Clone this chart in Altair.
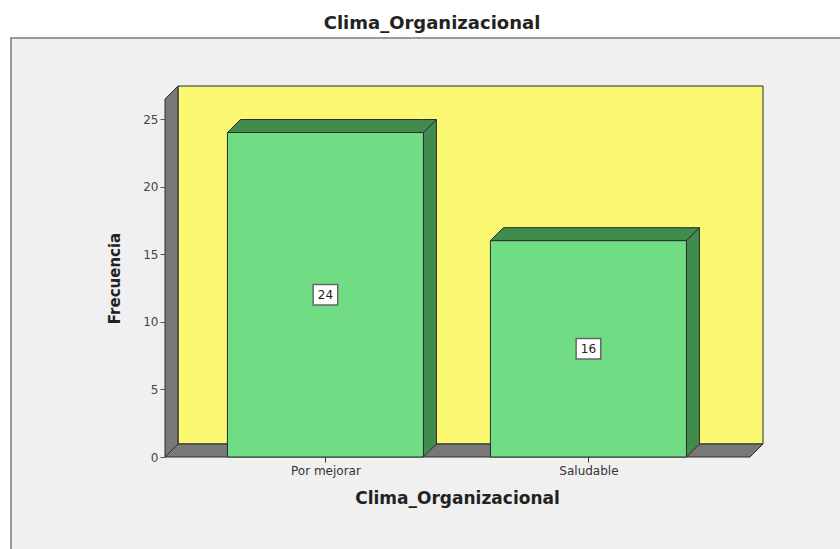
import altair as alt
import pandas as pd

# ---- data -------------------------------------------------------------
categorias = ["Por mejorar", "Saludable"]
frecuencias = [24, 16]
ticks_y = [0, 5, 10, 15, 20, 25]

titulo = "Clima_Organizacional"
titulo_x = "Clima_Organizacional"
titulo_y = "Frecuencia"

# ---- geometry of the 3-D box (plot-area pixels -> data units) ---------
W, H = 598, 371            # plot area incl. the depth of the box
PX_X = 263.0               # pixels per category step
PX_Y = 13.52               # pixels per count
X_MIN = 0.39
X_MAX = X_MIN + W / PX_X
Y_MAX = H / PX_Y
DX = 13 / PX_X             # depth offset, horizontal
DY = 13 / PX_Y             # depth offset, vertical
HALF = 0.3726              # half bar width (category units)
X_FRONT_END = X_MAX - DX
Y_FRONT_TOP = Y_MAX - DY

LIGHT = "#70DD85"
DARK = "#428B4F"
YELLOW = "#FAF770"
GREY = "#787878"
LINE = "#2B2B2B"
PANEL = "#F0F0F0"
FONT = "DejaVu Sans"

# walls and floor as polygons drawn by area marks
env_rows = []
bar_rows = []


def face(rows, name, fill, pts):
    for x, y, y2 in pts:
        rows.append(dict(face=name, fill=fill, x=x, y=y, y2=y2))


face(env_rows, "back", YELLOW, [(X_MIN + DX, DY, Y_MAX), (X_MAX, DY, Y_MAX)])
face(env_rows, "left", GREY, [(X_MIN, 0, Y_FRONT_TOP), (X_MIN + DX, DY, Y_MAX)])
face(env_rows, "floor", GREY, [(X_MIN, 0, 0), (X_MIN + DX, 0, DY),
                                (X_FRONT_END, 0, DY), (X_MAX, DY, DY)])

front_rows = []
for i, (cat, v) in enumerate(zip(categorias, frecuencias)):
    xc = i + 1
    xl, xr = xc - HALF, xc + HALF
    face(bar_rows, f"side{i}", DARK, [(xr, 0, v), (xr + DX, DY, v + DY)])
    face(bar_rows, f"top{i}", DARK, [(xl, v, v), (xl + DX, v, v + DY),
                                     (xr, v, v + DY), (xr + DX, v + DY, v + DY)])
    front_rows.append(dict(cat=cat, xc=xc, xl=xl, xr=xr, zero=0, v=v, mid=v / 2))

env = pd.DataFrame(env_rows)
bars3d = pd.DataFrame(bar_rows)
front = pd.DataFrame(front_rows)

# ---- shared scales / axes --------------------------------------------
label_expr = "[" + ",".join(f"'{c}'" for c in categorias) + "][datum.value - 1]"

x_axis = alt.Axis(
    values=[1, 2], labelExpr=label_expr, title=titulo_x, grid=False, domain=False,
    ticks=True, tickSize=5, tickColor="#333333", labelFont=FONT, labelFontSize=12,
    labelColor="#333333", labelPadding=3, titleFont=FONT, titleFontSize=17,
    titleFontWeight="bold", titleColor="#222222", titleX=292, titleY=41,
    titleBaseline="middle", titleAlign="center", zindex=1,
)
y_axis = alt.Axis(
    values=ticks_y, title=titulo_y, grid=False, domain=False, ticks=True, tickSize=5,
    tickColor="#555555", labelFont=FONT, labelFontSize=12, labelColor="#444444",
    labelPadding=2, titleFont=FONT, titleFontSize=15, titleFontWeight="bold",
    titleColor="#222222", titleAngle=270, titleX=-51, titleY=192,
    titleBaseline="middle", titleAlign="center", zindex=1,
)
x_scale = alt.Scale(domain=[X_MIN, X_MAX], nice=False, zero=False)
y_scale = alt.Scale(domain=[0, Y_MAX], nice=False, zero=False)


def X(field):
    return alt.X(field, type="quantitative", scale=x_scale, axis=x_axis)


def Y(field):
    return alt.Y(field, type="quantitative", scale=y_scale, axis=y_axis, stack=None)


# ---- layers -----------------------------------------------------------
panel = alt.Chart(front).mark_rect(fill=PANEL, stroke="#9A9A9A", strokeWidth=2).encode(
    x=alt.value(-154), x2=alt.value(W + 120), y=alt.value(-48), y2=alt.value(H + 150)
)

walls = alt.Chart(env).mark_area(stroke=LINE, strokeWidth=1, interpolate="linear").encode(
    x=X("x"), y=Y("y"), y2="y2",
    color=alt.Color("fill:N", scale=None), detail="face:N",
)

bar_faces = alt.Chart(bars3d).mark_area(stroke=LINE, strokeWidth=1,
                                        interpolate="linear").encode(
    x=X("x"), y=Y("y"), y2="y2",
    color=alt.Color("fill:N", scale=None), detail="face:N",
)

bar_front = alt.Chart(front).mark_rect(fill=LIGHT, stroke=LINE, strokeWidth=1).encode(
    x=X("xl"), x2="xr", y=Y("zero"), y2="v"
)

label_box = alt.Chart(front).mark_point(
    shape="M-1.2,-1H1.2V1H-1.2Z", size=420, filled=True, fill="white", opacity=1,
    stroke="#666666", strokeWidth=1.5,
).encode(x=X("xc"), y=Y("mid"))

label_text = alt.Chart(front).mark_text(
    font=FONT, fontSize=12, color="#222222", align="center", baseline="middle"
).encode(x=X("xc"), y=Y("mid"), text=alt.Text("v:Q"))

chart = alt.layer(panel, walls, bar_faces, bar_front, label_box, label_text).properties(
    width=W, height=H,
    title=alt.TitleParams(titulo, font=FONT, fontSize=18, fontWeight="bold",
                          color="#222222", anchor="middle", dx=-32),
    background="white",
    autosize=alt.AutoSizeParams(type="none"),
    padding={"left": 165, "top": 86, "right": 77, "bottom": 92},
).configure_view(stroke=None)

chart.save("out.html", embed_options={"renderer": "svg", "actions": False})
